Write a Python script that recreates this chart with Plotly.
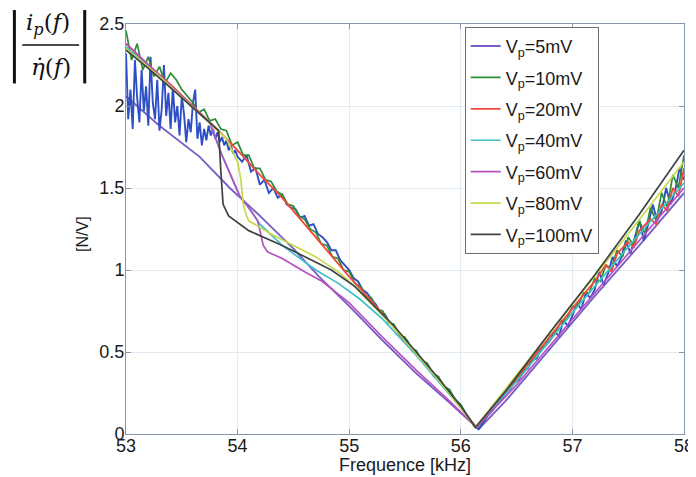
import plotly.graph_objects as go

# ---------------- data ----------------
labels = ["V<sub>p</sub>=5mV", "V<sub>p</sub>=10mV", "V<sub>p</sub>=20mV", "V<sub>p</sub>=40mV",
          "V<sub>p</sub>=60mV", "V<sub>p</sub>=80mV", "V<sub>p</sub>=100mV"]

# lower (violet) branch, 5mV legend entry
f_5 = [53.00, 53.30, 53.66, 53.93, 54.20, 54.50, 54.73, 55.00, 55.30, 55.60, 55.90, 56.16,
       56.40, 56.80, 57.20, 57.60, 58.00]
v_5 = [2.06, 1.88, 1.69, 1.50, 1.33, 1.13, 0.96, 0.78, 0.57, 0.37, 0.19, 0.03,
       0.20, 0.52, 0.84, 1.15, 1.47]

# noisy blue measurement
f_blue = [53.00, 53.02, 53.04, 53.06, 53.08, 53.10, 53.12, 53.14, 53.16, 53.18,
          53.20, 53.22, 53.24, 53.26, 53.28, 53.30, 53.32, 53.34, 53.36, 53.38,
          53.40, 53.42, 53.44, 53.46, 53.48, 53.50, 53.52, 53.54, 53.56, 53.58,
          53.60, 53.62, 53.64, 53.66, 53.68, 53.70, 53.72, 53.74, 53.76, 53.78,
          53.80, 53.82, 53.84, 53.86, 53.88, 53.90, 53.92, 53.94, 53.96, 53.98,
          54.00, 54.04, 54.08, 54.12, 54.16, 54.20, 54.24, 54.28, 54.32, 54.36,
          54.40, 54.44, 54.48, 54.52, 54.56, 54.60, 54.64, 54.68, 54.72, 54.76,
          54.80, 54.84, 54.88, 54.92, 54.96, 55.00, 55.04, 55.08, 55.12, 55.16,
          55.20, 55.24, 55.28, 55.32, 55.36, 55.40, 55.44, 55.48, 55.52, 55.56,
          55.60, 55.64, 55.68, 55.72, 55.76, 55.80, 55.84, 55.88, 55.92, 55.96,
          56.00, 56.04, 56.08, 56.12, 56.16, 56.20, 56.24, 56.28, 56.32, 56.36,
          56.40, 56.44, 56.48, 56.52, 56.56, 56.60, 56.64, 56.68, 56.72, 56.76,
          56.80, 56.84, 56.88, 56.92, 56.96, 57.00, 57.04, 57.08, 57.12, 57.16,
          57.20, 57.24, 57.28, 57.32, 57.36, 57.40, 57.44, 57.48, 57.52, 57.56,
          57.60, 57.64, 57.68, 57.72, 57.76, 57.80, 57.84, 57.88, 57.92, 57.96,
          58.00]
v_blue = [2.32, 1.92, 2.10, 1.86, 2.28, 2.05, 1.90, 2.22, 1.97, 2.12,
          1.88, 2.30, 2.02, 1.92, 2.16, 1.85, 1.98, 2.25, 1.94, 2.08,
          1.86, 2.12, 1.90, 2.00, 1.82, 2.06, 1.95, 1.78, 1.92, 1.84,
          2.02, 2.10, 1.80, 1.90, 1.76, 1.86, 1.79, 1.88, 1.82, 1.86,
          1.80, 1.84, 1.78, 1.81, 1.76, 1.79, 1.73, 1.76, 1.71, 1.73,
          1.69, 1.66, 1.70, 1.60, 1.62, 1.52, 1.55, 1.47, 1.50, 1.44,
          1.46, 1.40, 1.38, 1.37, 1.32, 1.33, 1.27, 1.28, 1.22, 1.20,
          1.17, 1.12, 1.12, 1.06, 1.03, 1.00, 0.95, 0.93, 0.88, 0.86,
          0.82, 0.79, 0.74, 0.73, 0.68, 0.66, 0.62, 0.58, 0.57, 0.51,
          0.49, 0.46, 0.42, 0.40, 0.35, 0.33, 0.30, 0.26, 0.23, 0.20,
          0.17, 0.13, 0.09, 0.05, 0.03, 0.07, 0.11, 0.14, 0.18, 0.20,
          0.25, 0.27, 0.32, 0.33, 0.38, 0.40, 0.45, 0.46, 0.52, 0.54,
          0.57, 0.62, 0.60, 0.69, 0.66, 0.72, 0.80, 0.76, 0.86, 0.83,
          0.88, 0.99, 0.91, 0.98, 1.08, 1.02, 1.08, 1.18, 1.10, 1.20,
          1.30, 1.18, 1.28, 1.40, 1.30, 1.36, 1.50, 1.40, 1.48, 1.62,
          1.55]

# 10mV (green, moderately noisy)
f_10 = [53.00, 53.05, 53.10, 53.15, 53.20, 53.25, 53.30, 53.35, 53.40, 53.45,
        53.50, 53.55, 53.60, 53.65, 53.70, 53.75, 53.80, 53.85, 53.90, 53.95,
        54.00, 54.05, 54.10, 54.15, 54.20, 54.25, 54.30, 54.35, 54.40, 54.45,
        54.50, 54.55, 54.60, 54.65, 54.70, 54.75, 54.80, 54.85, 54.90, 54.95,
        55.00, 55.05, 55.10, 55.15, 55.20, 55.25, 55.30, 55.35, 55.40, 55.45,
        55.50, 55.55, 55.60, 55.65, 55.70, 55.75, 55.80, 55.85, 55.90, 55.95,
        56.00, 56.05, 56.10, 56.14, 56.20, 56.25, 56.30, 56.35, 56.40, 56.45,
        56.50, 56.55, 56.60, 56.65, 56.70, 56.75, 56.80, 56.85, 56.90, 56.95,
        57.00, 57.05, 57.10, 57.15, 57.20, 57.25, 57.30, 57.35, 57.40, 57.45,
        57.50, 57.55, 57.60, 57.65, 57.70, 57.75, 57.80, 57.85, 57.90, 57.95,
        58.00]
v_10 = [2.46, 2.28, 2.38, 2.22, 2.30, 2.18, 2.24, 2.14, 2.20, 2.16,
        2.10, 2.06, 2.02, 1.96, 1.98, 1.91, 1.92, 1.86, 1.85, 1.76,
        1.78, 1.70, 1.70, 1.62, 1.62, 1.55, 1.54, 1.48, 1.46, 1.40,
        1.39, 1.33, 1.31, 1.25, 1.23, 1.16, 1.15, 1.08, 1.07, 1.00,
        0.99, 0.92, 0.90, 0.84, 0.83, 0.76, 0.75, 0.68, 0.67, 0.60,
        0.59, 0.52, 0.51, 0.45, 0.43, 0.37, 0.35, 0.29, 0.27, 0.21,
        0.18, 0.12, 0.07, 0.04, 0.08, 0.12, 0.17, 0.20, 0.26, 0.29,
        0.34, 0.37, 0.43, 0.45, 0.52, 0.53, 0.60, 0.62, 0.69, 0.70,
        0.78, 0.78, 0.86, 0.86, 0.95, 0.93, 1.03, 1.01, 1.12, 1.08,
        1.20, 1.15, 1.30, 1.22, 1.38, 1.30, 1.47, 1.38, 1.58, 1.50,
        1.70]

# 20mV (red, upper branch)
f_20 = [53.00, 53.20, 53.40, 53.60, 53.80, 54.00, 54.20, 54.40, 54.60, 54.80,
        55.00, 55.20, 55.40, 55.60, 55.80, 56.00, 56.14, 56.30, 56.50, 56.70,
        56.90, 57.00, 57.10, 57.20, 57.30, 57.35, 57.40, 57.50, 57.55, 57.60,
        57.70, 57.75, 57.80, 57.85, 57.90, 57.95, 58.00]
v_20 = [2.38, 2.25, 2.13, 2.00, 1.87, 1.73, 1.58, 1.44, 1.28, 1.12,
        0.96, 0.81, 0.65, 0.49, 0.33, 0.16, 0.04, 0.17, 0.34, 0.51,
        0.68, 0.77, 0.85, 0.93, 1.03, 0.99, 1.10, 1.17, 1.14, 1.24,
        1.31, 1.28, 1.40, 1.36, 1.50, 1.45, 1.62]

# 40mV (cyan)
f_40 = [53.00, 53.30, 53.60, 53.75, 53.86, 54.02, 54.10, 54.20, 54.40, 54.70,
        54.90, 55.10, 55.30, 55.60, 56.00, 56.13, 56.50, 57.00, 57.50, 58.00]
v_40 = [2.36, 2.18, 1.99, 1.90, 1.70, 1.45, 1.38, 1.28, 1.15, 1.00,
        0.92, 0.82, 0.70, 0.48, 0.16, 0.04, 0.32, 0.74, 1.14, 1.53]

# 60mV (magenta)
f_60 = [53.00, 53.30, 53.60, 53.75, 53.86, 54.02, 54.10, 54.18, 54.20, 54.23,
        54.27, 54.40, 54.60, 54.76, 55.00, 55.30, 55.60, 55.90, 56.14, 56.50,
        57.00, 57.50, 58.00]
v_60 = [2.38, 2.19, 2.00, 1.90, 1.70, 1.45, 1.38, 1.30, 1.24, 1.15,
        1.11, 1.07, 0.99, 0.93, 0.80, 0.59, 0.39, 0.20, 0.04, 0.30,
        0.70, 1.10, 1.50]

# 80mV (yellow-green)
f_80 = [53.00, 53.30, 53.60, 53.90, 54.00, 54.03, 54.05, 54.08, 54.10, 54.30,
        54.50, 54.70, 54.90, 55.05, 55.40, 55.80, 56.00, 56.13, 56.50, 57.00,
        57.50, 58.00]
v_80 = [2.35, 2.18, 1.99, 1.80, 1.66, 1.55, 1.40, 1.33, 1.30, 1.22,
        1.15, 1.08, 0.99, 0.90, 0.65, 0.33, 0.16, 0.04, 0.36, 0.79,
        1.22, 1.66]

# 100mV (dark grey)
f_100 = [53.00, 53.20, 53.40, 53.60, 53.80, 53.83, 53.85, 53.87, 53.92, 54.00,
         54.10, 54.40, 54.70, 54.84, 55.05, 55.40, 55.80, 56.00, 56.13, 56.40,
         56.80, 57.20, 57.60, 58.00]
v_100 = [2.34, 2.23, 2.11, 1.99, 1.87, 1.85, 1.60, 1.40, 1.33, 1.29,
         1.24, 1.15, 1.05, 1.00, 0.90, 0.66, 0.34, 0.17, 0.04, 0.26,
         0.62, 0.97, 1.34, 1.73]

x_ticks = [53, 54, 55, 56, 57, 58]
y_ticks = [0, 0.5, 1, 1.5, 2, 2.5]
y_tick_text = ["0", "0.5", "1", "1.5", "2", "2.5"]

# ---------------- figure ----------------
colors = {
    "5": "#7b5fc6", "blue": "#2f4fc6", "10": "#2b8c35", "20": "#f04b3c",
    "40": "#3fc0c8", "60": "#b84fc0", "80": "#c8d84a", "100": "#3c4444",
}

fig = go.Figure()

def add(x, y, name, color, rank, width=1.7, show=True):
    fig.add_trace(go.Scatter(x=x, y=y, mode="lines", name=name, showlegend=show,
                             legendgroup=name, legendrank=rank,
                             line=dict(color=color, width=width)))

add(f_5, v_5, labels[0], colors["5"], 1, 1.9)
add(f_blue, v_blue, "blue", colors["blue"], 99, 1.9, show=False)
add(f_10, v_10, labels[1], colors["10"], 2)
add(f_20, v_20, labels[2], colors["20"], 3, 1.9)
add(f_40, v_40, labels[3], colors["40"], 4)
add(f_60, v_60, labels[4], colors["60"], 5)
add(f_80, v_80, labels[5], colors["80"], 6)
add(f_100, v_100, labels[6], colors["100"], 7)

axis_color = "#8796ab"
grid_color = "#e2eaf2"
sans = "Liberation Sans, Arial, sans-serif"
tick_font = dict(family=sans, size=18, color="#1a1a1a")

# the page adds an 8px body margin: the figure is sized so the plot sits where the reference has it
fig.update_layout(
    width=688, height=469,
    margin=dict(l=118, r=12, t=16, b=43, autoexpand=False),
    paper_bgcolor="white", plot_bgcolor="white",
    showlegend=True,
    legend=dict(
        x=0.607, y=0.993, xanchor="left", yanchor="top",
        bgcolor="white", bordercolor="#6e6e6e", borderwidth=1,
        font=dict(family=sans, size=18, color="#1a1a1a"),
        traceorder="grouped", tracegroupgap=5, itemwidth=30,
    ),
    xaxis=dict(
        range=[53, 58], tickvals=x_ticks, ticktext=[str(t) for t in x_ticks],
        showgrid=True, gridcolor=grid_color, gridwidth=1,
        showline=True, linecolor=axis_color, linewidth=1, mirror="ticks",
        ticks="inside", ticklen=5, tickcolor=axis_color, ticklabelstandoff=-5,
        ticklabeloverflow="allow",
        tickfont=tick_font, zeroline=False, automargin=False,
    ),
    yaxis=dict(
        range=[0, 2.5], tickvals=y_ticks, ticktext=y_tick_text,
        showgrid=True, gridcolor=grid_color, gridwidth=1,
        showline=True, linecolor=axis_color, linewidth=1, mirror="ticks",
        ticks="inside", ticklen=5, tickcolor=axis_color, ticklabelstandoff=-3,
        ticklabeloverflow="allow",
        tickfont=tick_font, zeroline=False, automargin=False,
    ),
)

# axis titles
fig.add_annotation(xref="paper", yref="paper", x=0.5, y=-0.076, xanchor="center", yanchor="middle",
                   text="Frequence [kHz]", showarrow=False, font=tick_font)
fig.add_annotation(xref="paper", yref="paper", x=-0.077, y=0.488, xanchor="center", yanchor="middle",
                   text="[N/V]", textangle=-90, showarrow=False,
                   font=dict(family=sans, size=16, color="#1a1a1a"))

# formula |i_p(f) / eta_dot(f)| in the top-left corner
serif = dict(family="DejaVu Serif, serif", size=23, color="#111111")
fig.add_annotation(xref="paper", yref="paper", x=-0.14, y=1.0, xanchor="center", yanchor="middle",
                   text="<i>i</i><sub><i>p</i></sub>(<i>f</i>)", showarrow=False, font=serif)
fig.add_annotation(xref="paper", yref="paper", x=-0.135, y=0.896, xanchor="center", yanchor="middle",
                   text="<i>\u03b7\u0307</i>(<i>f</i>)", showarrow=False, font=serif)
fig.add_shape(type="line", xref="paper", yref="paper", x0=-0.2, x1=-0.2, y0=0.855, y1=1.034,
              line=dict(color="#111111", width=3))
fig.add_shape(type="line", xref="paper", yref="paper", x0=-0.074, x1=-0.074, y0=0.855, y1=1.034,
              line=dict(color="#111111", width=3))
fig.add_shape(type="line", xref="paper", yref="paper", x0=-0.186, x1=-0.084, y0=0.949, y1=0.949,
              line=dict(color="#111111", width=1.5))

fig.write_html("out.html")
